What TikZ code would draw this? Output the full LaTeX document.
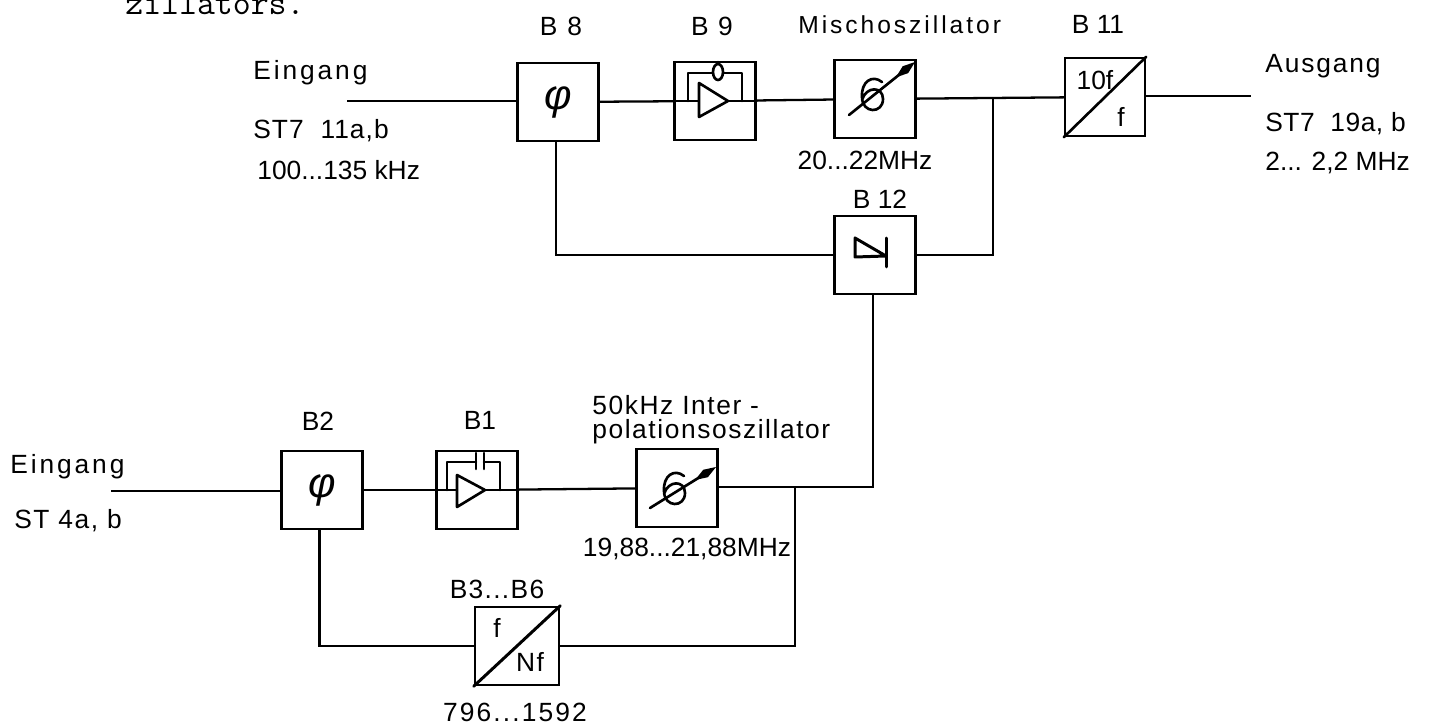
\documentclass[tikz,border=0pt]{standalone}
\usepackage{fontspec}
\setmainfont{Liberation Sans}
\usetikzlibrary{arrows.meta,positioning}

\begin{document}
\begin{tikzpicture}[
    x=0.02cm, y=-0.02cm,
    block/.style={rectangle, draw, line width=1.4pt, minimum width=1.62cm, minimum height=1.56cm, inner sep=0pt},
    phase/.style={block, font=\fontsize{24}{24}\selectfont\itshape},
    tag/.style={font=\fontsize{15}{17}\selectfont\addfontfeature{LetterSpace=#1}, inner sep=0pt},
    tag/.default=0,
    lefttag/.style={tag=#1, anchor=west},
    lefttag/.default=0,
    wire/.style={line width=1.3pt},
    symbol/.style={line width=1.5pt, line cap=round, line join=round},
    tune/.style={line width=1.5pt, line cap=round, -{Kite[length=14pt,width=5pt,inset=7pt]}}
]
\useasboundingbox (0,0) rectangle (1434,726);

% Upper row
\node[phase] at (558,102) (b8) {φ};
\node[block] at (715,101) (b9) {};
\node[block] at (875,99) (misch) {};
\node[block, minimum width=1.6cm] at (1105,97) (b11) {};
\node[block] at (875,255) (b12) {};

% Lower row
\node[phase] at (322,490) (b2) {φ};
\node[block] at (477,490) (b1) {};
\node[block] at (677,488) (inter) {};
\node[block, minimum width=1.68cm] at (517,646) (b3) {};

% Free ends and corners
\coordinate (ein1) at (347,101);
\coordinate (aus1) at (1251,96);
\coordinate (ein2) at (111,491);
\coordinate (top) at (993,98);
\coordinate (low) at (795,487);

% Labels
\node[font=\ttfamily\fontsize{19.8}{22}\selectfont, inner sep=0pt, anchor=base west] at (125,15) (text) {zillators.};
\node[tag=10] at (561,26) (lb8) {B 8};
\node[tag=8] at (712,26) (lb9) {B 9};
\node[font=\fontsize{14}{16}\selectfont\addfontfeature{LetterSpace=12}, inner sep=0pt, anchor=west] at (798,25) (lmisch) {Mischoszillator};
\node[tag] at (1098,24) (lb11) {B 11};
\node[tag] at (880,199) (lb12) {B 12};
\node[tag] at (865,160) (lfmisch) {20...22MHz};
\node[lefttag=11] at (253,73) (lein1) {Eingang};
\node[lefttag=4] at (253,131) (lst1) {ST7 \ 11a,b};
\node[lefttag] at (257,170) (lf1) {100...135 kHz};
\node[lefttag=7] at (1265,66) (laus) {Ausgang};
\node[lefttag=2] at (1265,124) (lst2) {ST7 \ 19a, b};
\node[lefttag] at (1265,163) (lf2) {2... 2,2 MHz};
\node[tag] at (318,421) (lb2) {B2};
\node[tag] at (480,420) (lb1) {B1};
\node[align=left, anchor=west, inner sep=0pt, font=\fontsize{15}{13.6}\selectfont\addfontfeature{LetterSpace=6}] at (592,420) (linter) {50kHz Inter -\\polationsoszillator};
\node[tag] at (687,549) (lfinter) {19,88...21,88MHz};
\node[tag=5] at (497,589) (lb3) {B3...B6};
\node[tag=8] at (515,712) (lf3) {796...1592};
\node[lefttag=11] at (10,467) (lein2) {Eingang};
\node[lefttag=6] at (14,521) (lst3) {ST 4a, b};

% Connections
\draw[wire] (ein1) -- (b8.west |- ein1);
\draw[wire] (b8) -- (b9);
\draw[wire] (b9) -- (misch);
\draw[wire] (misch) -- (b11);
\draw[wire] (b11.east |- aus1) -- (aus1);
\draw[wire] ([xshift=-1pt]b8.south) |- (b12);
\draw[wire] (b12) -| (top);
\draw[wire] (ein2) -- (b2.west |- ein2);
\draw[wire] (b2) -- (b1);
\draw[wire] (b1) -- (inter);
\draw[wire] (inter.east |- low) -| ([xshift=-1pt]b12.south);
\draw[wire] ([xshift=-1.5pt]b2.south) |- (b3);
\draw[wire] (b3) -| (low);

% Amplifier B9
\draw[symbol] (b9.west) -- (b9.east);
\draw[symbol, fill=white] (699,83) -- (699,117) -- (728,101) -- cycle;
\draw[symbol] (688,101) -- (688,73) -- (713,73);
\draw[symbol] (723,73) -- (742,73) -- (742,101);
\draw[symbol, fill=white] (718,72) ellipse (5 and 8);
\draw[symbol] (718,62) -- (718,64);

% Amplifier B1
\draw[symbol] (b1.west) -- (b1.east);
\draw[symbol, fill=white] (457,475) -- (457,507) -- (485,490) -- cycle;
\draw[symbol] (447,490) -- (447,462) -- (476,462);
\draw[symbol] (484,462) -- (500,462) -- (500,490);
\draw[symbol] (476,453) -- (476,469);
\draw[symbol] (484,453) -- (484,469);

% Oscillators
\draw[tune] (849,115) -- (915,62);
\draw[symbol] (882,82) .. controls (872,74) and (861,82) .. (862,97) .. controls (862,114) and (883,114) .. (883,99) .. controls (883,86) and (866,86) .. (862,100);
\draw[tune] (650,508) -- (716,467);
\draw[symbol] (684,476) .. controls (674,468) and (663,476) .. (664,491) .. controls (664,508) and (685,508) .. (685,493) .. controls (685,480) and (668,480) .. (664,494);

% Dividers
\draw[symbol] (b11.south west) -- (b11.north east);
\node[tag] at (1095,80) (t10f) {10f};
\node[tag] at (1121,117) (tf) {f};
\draw[symbol, line width=1.7pt] (b3.south west) -- (b3.north east);
\node[tag] at (497,628) (tf2) {f};
\node[tag=6] at (530,662) (tnf) {Nf};

% Diode B12
\draw[symbol, line width=1.7pt] (855,238) -- (855,257) -- (886,256) -- cycle;
\draw[symbol, line width=1.7pt] (886,238) -- (886,267);
\end{tikzpicture}
\end{document}
